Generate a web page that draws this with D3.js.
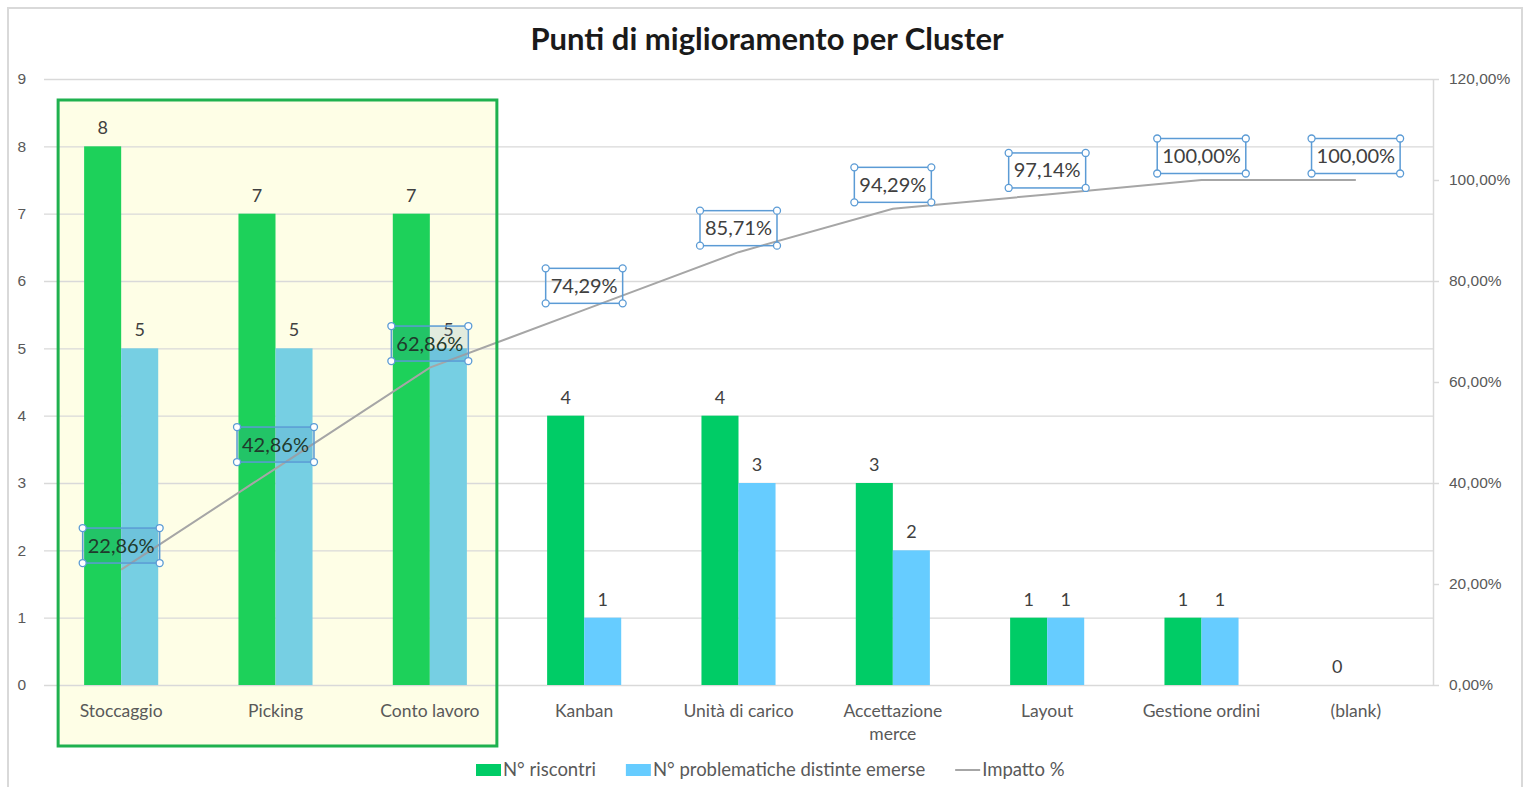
<!DOCTYPE html>
<html>
<head>
<meta charset="utf-8">
<style>
  body { margin: 0; background: #fff; }
  svg { font-family: Lato, "Open Sans", sans-serif; }
  .axis text { fill: #595959; font-size: 15.5px; }
  .cat text { fill: #595959; font-size: 17.5px; }
  .grid line { stroke: #d9d9d9; stroke-width: 1.3; }
  .grid path { display: none; }
</style>
</head>
<body>
<script src="https://d3js.org/d3.v7.min.js"></script>
<script>
const W = 1529, H = 787;

// data
const categories = ["Stoccaggio", "Picking", "Conto lavoro", "Kanban", "Unità di carico",
  "Accettazione merce", "Layout", "Gestione ordini", "(blank)"];
const riscontri = [8, 7, 7, 4, 4, 3, 1, 1, 0];
const problematiche = [5, 5, 5, 1, 3, 2, 1, 1, null];
const impatto = [0.2286, 0.4286, 0.6286, 0.7429, 0.8571, 0.9429, 0.9714, 1.0, 1.0];
const leftTicks = [0, 1, 2, 3, 4, 5, 6, 7, 8, 9];
const rightTicks = [0, 0.2, 0.4, 0.6, 0.8, 1.0, 1.2];
const highlighted = ["Stoccaggio", "Picking", "Conto lavoro"];
const seriesNames = ["N° riscontri", "N° problematiche distinte emerse", "Impatto %"];

const fmtPct = v => d3.format(".2f")(v * 100).replace(".", ",") + "%";
const isHi = c => highlighted.includes(c);

const svg = d3.select("body").append("svg").attr("width", W).attr("height", H);

// outer frame
svg.append("rect").attr("x", 8).attr("y", 8).attr("width", 1514).attr("height", 790)
  .attr("fill", "#fff").attr("stroke", "#d9d9d9").attr("stroke-width", 2);

svg.append("text").attr("x", 767).attr("y", 50).attr("text-anchor", "middle")
  .attr("font-size", 31).attr("font-weight", "bold").attr("fill", "#1a1a1a")
  .text("Punti di miglioramento per Cluster");

const x = d3.scaleBand().domain(categories).range([44, 1433])
  .paddingInner(0.52).paddingOuter(0.26);
const x1 = d3.scaleBand().domain([0, 1]).range([0, x.bandwidth()]);
const y = d3.scaleLinear().domain([0, 9]).range([685, 79]);
const y2 = d3.scaleLinear().domain([0, 1.2]).range([685, 79]);
const cx = c => x(c) + x.bandwidth() / 2;

// highlight box background
const hx0 = x(highlighted[0]) - 26, hx1 = x(highlighted[2]) + x.bandwidth() + 30;
svg.append("rect").attr("x", hx0).attr("y", 100).attr("width", hx1 - hx0).attr("height", 646)
  .attr("fill", "#fefee6");

// grid
svg.append("g").attr("class", "grid").attr("transform", "translate(44,0)")
  .call(d3.axisLeft(y).tickValues(leftTicks).tickSize(-(1433 - 44)).tickFormat(""));

// bars
const bars = svg.append("g");
categories.forEach((c, i) => {
  [riscontri[i], problematiche[i]].forEach((v, k) => {
    if (v == null) return;
    const col = k === 0 ? (isHi(c) ? "#1dd15a" : "#00cc66") : (isHi(c) ? "#76cfe3" : "#66ccff");
    bars.append("rect").attr("x", x(c) + x1(k)).attr("y", y(v))
      .attr("width", x1.bandwidth()).attr("height", y(0) - y(v)).attr("fill", col);
    bars.append("text").attr("x", x(c) + x1(k) + x1.bandwidth() / 2).attr("y", y(v) - 12)
      .attr("text-anchor", "middle").attr("font-size", 18).attr("fill", "#404040").text(v);
  });
});

// cumulative line
svg.append("path").datum(impatto)
  .attr("d", d3.line().x((d, i) => cx(categories[i])).y(d => y2(d)))
  .attr("fill", "none").attr("stroke", "#a6a6a6").attr("stroke-width", 2);

// line labels in selected-style boxes
const lab = svg.append("g");
impatto.forEach((v, i) => {
  const c = categories[i];
  const g = lab.append("g").attr("transform", `translate(${cx(c)},${y2(v) - 24})`);
  const rect = g.append("rect");
  const t = g.append("text").attr("text-anchor", "middle").attr("dy", "0.35em")
    .attr("font-size", 20).attr("fill", isHi(c) ? "#1f3a2c" : "#404040").text(fmtPct(v));
  const w = t.node().getComputedTextLength() + 10, h = 35;
  rect.attr("x", -w / 2).attr("y", -h / 2).attr("width", w).attr("height", h)
    .attr("fill", isHi(c) ? "rgba(70,130,180,0.15)" : "none")
    .attr("stroke", "#5b9bd5").attr("stroke-width", 1.5);
  [[-w / 2, -h / 2], [w / 2, -h / 2], [-w / 2, h / 2], [w / 2, h / 2]].forEach(p => {
    g.append("circle").attr("cx", p[0]).attr("cy", p[1]).attr("r", 3.5)
      .attr("fill", "#fff").attr("stroke", "#5b9bd5").attr("stroke-width", 1.3);
  });
});

// highlight box border
svg.append("rect").attr("x", hx0).attr("y", 100).attr("width", hx1 - hx0).attr("height", 646)
  .attr("fill", "none").attr("stroke", "#1fb14f").attr("stroke-width", 3);

// left axis (labels only)
svg.append("g").attr("class", "axis").attr("transform", "translate(44,0)")
  .call(d3.axisLeft(y).tickValues(leftTicks).tickSize(0).tickPadding(18))
  .call(g => g.selectAll("text").attr("font-size", 17))
  .call(g => g.select(".domain").remove());

// right axis
svg.append("g").attr("class", "axis").attr("transform", "translate(1433,0)")
  .call(d3.axisRight(y2).tickValues(rightTicks).tickFormat(fmtPct).tickSize(6).tickSizeOuter(0).tickPadding(10))
  .call(g => g.selectAll("line, .domain").attr("stroke", "#d9d9d9").attr("stroke-width", 1.5));

// category labels
const xg = svg.append("g").attr("class", "cat");
categories.forEach(c => {
  const words = c.length > 16 ? c.split(" ") : [c];
  const t = xg.append("text").attr("x", cx(c)).attr("y", 717).attr("text-anchor", "middle");
  words.forEach((wd, j) => t.append("tspan").attr("x", cx(c)).attr("dy", j ? 23 : 0).text(wd));
});

// legend
const leg = svg.append("g").attr("font-size", 18.5);
let lx = 476;
seriesNames.forEach((n, i) => {
  if (i < 2) {
    leg.append("rect").attr("x", lx).attr("y", 764).attr("width", 25).attr("height", 12)
      .attr("fill", i === 0 ? "#00cc66" : "#66ccff");
  } else {
    leg.append("line").attr("x1", lx).attr("x2", lx + 25).attr("y1", 770).attr("y2", 770)
      .attr("stroke", "#a6a6a6").attr("stroke-width", 2);
  }
  const t = leg.append("text").attr("x", lx + 27).attr("y", 776).attr("fill", "#595959").text(n);
  lx += 27 + t.node().getComputedTextLength() + 30;
});
</script>
</body>
</html>
